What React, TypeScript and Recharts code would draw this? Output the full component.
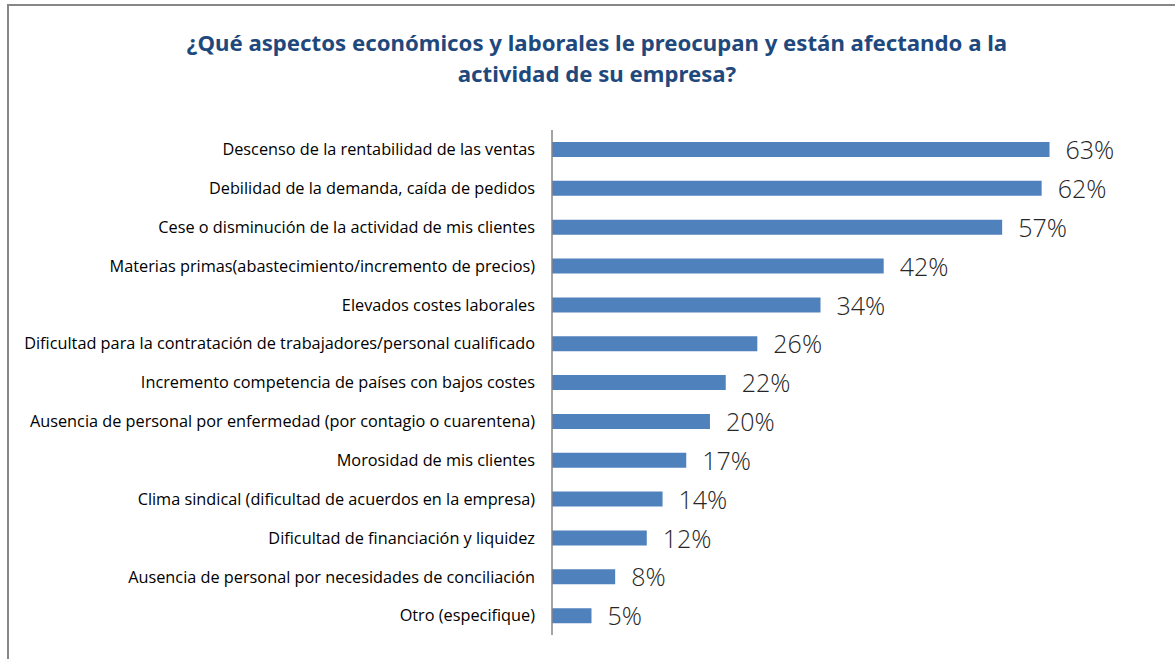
import React from "react";
import { BarChart, Bar, XAxis, YAxis, LabelList } from "recharts";

const categories = [
  "Descenso de la rentabilidad de las ventas",
  "Debilidad de la demanda, caída de pedidos",
  "Cese o disminución de la actividad de mis clientes",
  "Materias primas(abastecimiento/incremento de precios)",
  "Elevados costes laborales",
  "Dificultad para la contratación de trabajadores/personal cualificado",
  "Incremento competencia de países con bajos costes",
  "Ausencia de personal por enfermedad (por contagio o cuarentena)",
  "Morosidad de mis clientes",
  "Clima sindical (dificultad de acuerdos en la empresa)",
  "Dificultad de financiación y liquidez",
  "Ausencia de personal por necesidades de conciliación",
  "Otro (especifique)",
];

const values = [63, 62, 57, 42, 34, 26, 22, 20, 17, 14, 12, 8, 5];

const titleLines = [
  "¿Qué aspectos económicos y laborales le preocupan y están afectando a la",
  "actividad de su empresa?",
];

const data = categories.map((name, i) => ({ name, value: values[i] }));

const renderValueLabel = (props: any) => {
  const { x, y, width, height, value } = props;
  return (
    <text
      x={x + width + 16}
      y={y + height / 2 + 3}
      fill="#262626"
      fontSize={25}
      fontWeight={300}
      fontFamily="'Open Sans', sans-serif"
      dominantBaseline="middle"
    >
      {value}%
    </text>
  );
};

export default function App() {
  return (
    <div
      style={{
        position: "absolute",
        left: 0,
        top: 0,
        width: 1175,
        height: 659,
        overflow: "hidden",
        background: "#ffffff",
      }}
    >
      <div
        style={{
          position: "absolute",
          left: 7,
          top: 4,
          width: 1300,
          height: 800,
          borderLeft: "2px solid #878787",
          borderTop: "2px solid #878787",
        }}
      />
      <div
        style={{
          position: "absolute",
          left: 0,
          top: 27,
          width: 1194,
          textAlign: "center",
          fontFamily: "'Noto Sans', sans-serif",
          fontWeight: 700,
          fontSize: 22.2,
          lineHeight: "31px",
          color: "#1F497D",
        }}
      >
        {titleLines.map((t, i) => (
          <div key={i}>{t}</div>
        ))}
      </div>
      <div style={{ position: "absolute", left: 0, top: 0 }}>
        <BarChart
          width={1175}
          height={659}
          data={data}
          layout="vertical"
          margin={{ top: 130, right: 7, bottom: 24, left: 0 }}
          barSize={15}
        >
          <XAxis type="number" domain={[0, 78]} hide />
          <YAxis
            type="category"
            dataKey="name"
            width={552}
            interval={0}
            tickLine={false}
            tickSize={0}
            tickMargin={17}
            axisLine={{ stroke: "#868686", strokeWidth: 1.5 }}
            tick={{
              fill: "#000000",
              fontSize: 16.3,
              fontFamily: "'Open Sans', sans-serif",
            }}
          />
          <Bar dataKey="value" fill="#4F81BD" isAnimationActive={false}>
            <LabelList dataKey="value" content={renderValueLabel} />
          </Bar>
        </BarChart>
      </div>
    </div>
  );
}
